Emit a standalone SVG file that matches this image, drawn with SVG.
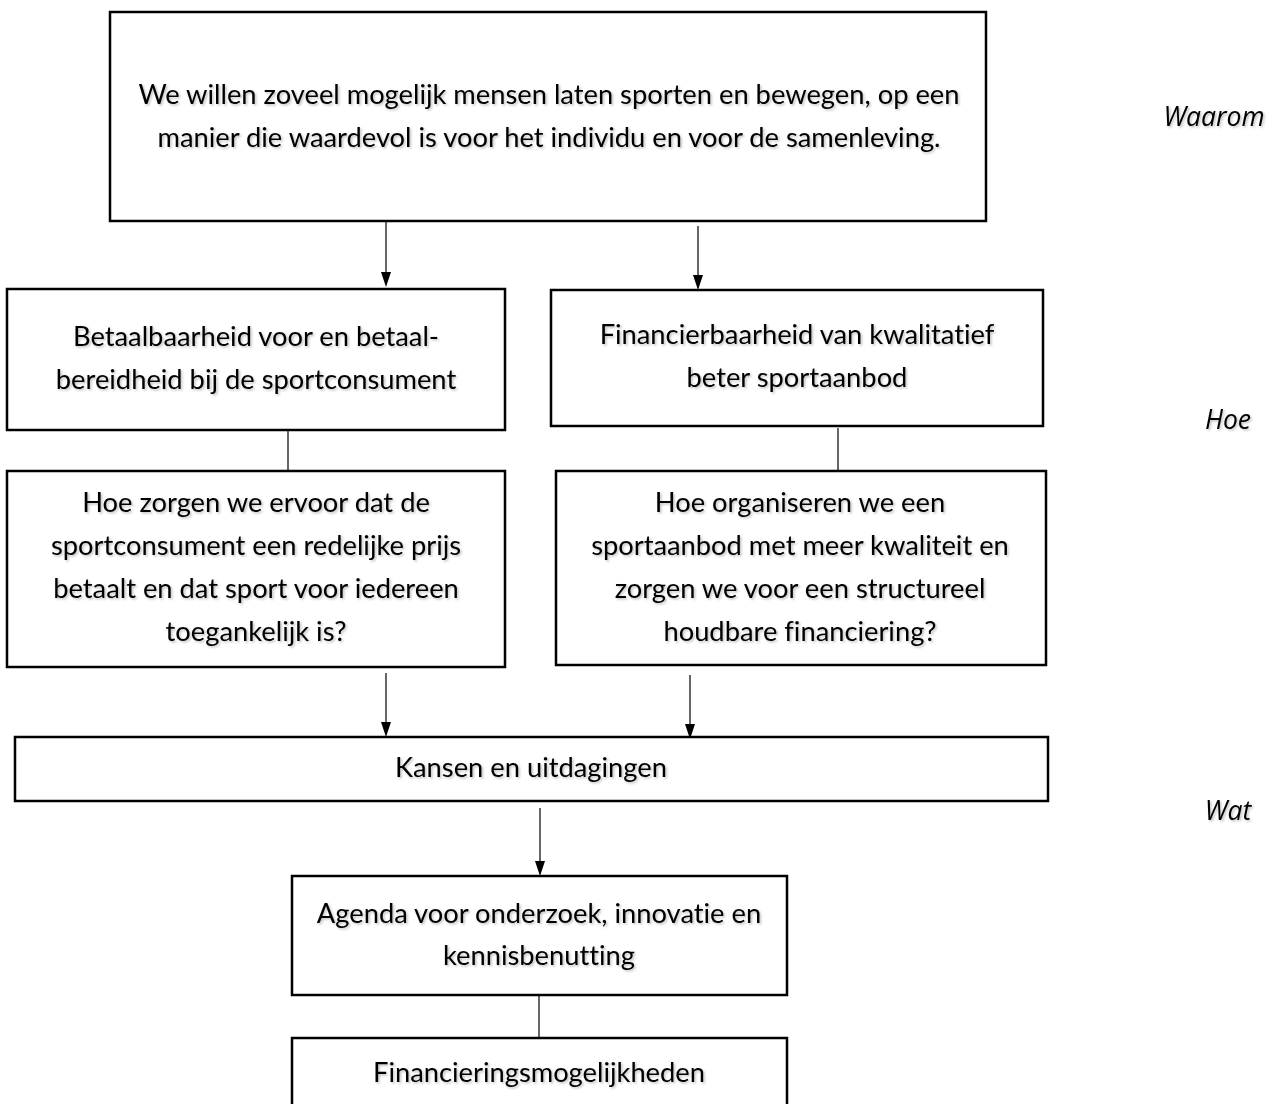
<svg xmlns="http://www.w3.org/2000/svg" width="1277" height="1104" viewBox="0 0 1277 1104">
<defs>
<style>
.box{fill:#fff;stroke:#000;stroke-width:2.5}
.t{font-family:Lato,"Open Sans","Liberation Sans",sans-serif;font-size:27.3px;fill:#000;text-anchor:middle;font-variant-ligatures:none;filter:url(#sh)}
.side{font-family:"Open Sans","Liberation Sans",sans-serif;font-size:26.5px;font-style:italic;fill:#000;text-anchor:middle;filter:url(#sh)}
.ln{stroke:#000;stroke-width:1.2;fill:none}
</style>
<filter id="sh" x="-5%" y="-20%" width="110%" height="150%">
<feDropShadow dx="1.5" dy="1.5" stdDeviation="1" flood-color="#000" flood-opacity="0.25"/>
</filter>
</defs>
<rect width="1277" height="1104" fill="#fff"/>
<g id="connectors">
<line class="ln" x1="386" y1="222" x2="386" y2="272"/>
<path d="M381,272 L391,272 L386,287 Z" fill="#000"/>
<line class="ln" x1="698" y1="226" x2="698" y2="275"/>
<path d="M693,275 L703,275 L698,290 Z" fill="#000"/>
<line class="ln" x1="288" y1="430" x2="288" y2="472"/>
<line class="ln" x1="838" y1="428" x2="838" y2="471"/>
<line class="ln" x1="386" y1="673" x2="386" y2="722"/>
<path d="M381,722 L391,722 L386,737 Z" fill="#000"/>
<line class="ln" x1="690" y1="675" x2="690" y2="724"/>
<path d="M685,724 L695,724 L690,739 Z" fill="#000"/>
<line class="ln" x1="540" y1="808" x2="540" y2="861"/>
<path d="M535,861 L545,861 L540,876 Z" fill="#000"/>
<line class="ln" x1="539" y1="995" x2="539" y2="1039"/>
</g>
<g id="n1">
<rect class="box" x="110" y="12" width="876" height="209"/>
<text class="t" x="549" y="104">We willen zoveel mogelijk mensen laten sporten en bewegen, op een</text>
<text class="t" x="549" y="147">manier die waardevol is voor het individu en voor de samenleving.</text>
</g>
<g id="n2">
<rect class="box" x="7" y="289" width="498" height="141"/>
<text class="t" x="256" y="346">Betaalbaarheid voor en betaal-</text>
<text class="t" x="256" y="389">bereidheid bij de sportconsument</text>
</g>
<g id="n3">
<rect class="box" x="551" y="290" width="492" height="136"/>
<text class="t" x="797" y="344">Financierbaarheid van kwalitatief</text>
<text class="t" x="797" y="387">beter sportaanbod</text>
</g>
<g id="n4">
<rect class="box" x="7" y="471" width="498" height="196"/>
<text class="t" x="256" y="512">Hoe zorgen we ervoor dat de</text>
<text class="t" x="256" y="555">sportconsument een redelijke prijs</text>
<text class="t" x="256" y="598">betaalt en dat sport voor iedereen</text>
<text class="t" x="256" y="641">toegankelijk is?</text>
</g>
<g id="n5">
<rect class="box" x="556" y="471" width="490" height="194"/>
<text class="t" x="800" y="512">Hoe organiseren we een</text>
<text class="t" x="800" y="555">sportaanbod met meer kwaliteit en</text>
<text class="t" x="800" y="598">zorgen we voor een structureel</text>
<text class="t" x="800" y="641">houdbare financiering?</text>
</g>
<g id="n6">
<rect class="box" x="15" y="737" width="1033" height="64"/>
<text class="t" x="531" y="777">Kansen en uitdagingen</text>
</g>
<g id="n7">
<rect class="box" x="292" y="876" width="495" height="119"/>
<text class="t" x="539" y="923">Agenda voor onderzoek, innovatie en</text>
<text class="t" x="539" y="965">kennisbenutting</text>
</g>
<g id="n8">
<rect class="box" x="292" y="1038" width="495" height="80"/>
<text class="t" x="539" y="1082">Financieringsmogelijkheden</text>
</g>
<g id="labels">
<text class="side" x="1214" y="126">Waarom</text>
<text class="side" x="1228" y="429">Hoe</text>
<text class="side" x="1228" y="820">Wat</text>
</g>
</svg>
